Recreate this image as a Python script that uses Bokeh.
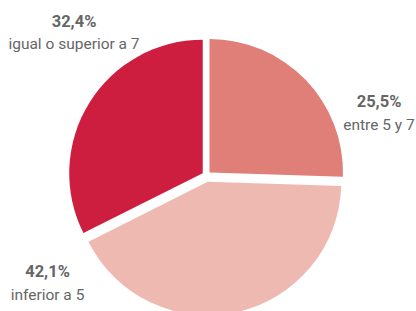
import math
from bokeh.plotting import figure
from bokeh.models import Range1d, ColumnDataSource
from bokeh.core.properties import value
from bokeh.embed import file_html
from bokeh.resources import INLINE

# data
categories = ["entre 5 y 7", "inferior a 5", "igual o superior a 7"]
shares = [25.5, 42.1, 32.4]
pct_labels = ["25,5%", "42,1%", "32,4%"]

# styles
colors = ["#E07E78", "#EDB9B0", "#CE1E40"]
explode = [4.3, 6.5, 4.3]
label_xy = [(378.5, 198.3), (47, 28.3), (73.5, 278.5)]  # centre of the two-line label block

W, H = 416, 311
cx, cy, R = 205.9, 136.0, 133.5

p = figure(width=W, height=H, output_backend="svg", toolbar_location=None,
           x_range=Range1d(0, W), y_range=Range1d(0, H), min_border=0)
p.axis.visible = False
p.grid.visible = False
p.outline_line_color = None

total = sum(shares)
start = 0.0
xs, ys, sa, ea = [], [], [], []
for s, d in zip(shares, explode):
    end = start + s / total * 2 * math.pi
    mid = (start + end) / 2
    # angle measured clockwise from 12 o'clock
    xs.append(cx + d * math.sin(mid))
    ys.append(cy + d * math.cos(mid))
    sa.append(math.pi / 2 - start)
    ea.append(math.pi / 2 - end)
    start = end

src = ColumnDataSource(dict(x=xs, y=ys, sa=sa, ea=ea, color=colors))
p.wedge(x="x", y="y", radius=R, start_angle="sa", end_angle="ea",
        direction="clock", fill_color="color", line_color=None, source=src)

font = value("Roboto")
lx = [xy[0] for xy in label_xy]
ly = [xy[1] for xy in label_xy]
p.text(x=lx, y=[v + 11.3 for v in ly], text=pct_labels, text_font=font,
       text_font_style="bold", text_font_size="16.5px", text_color="#666666",
       text_align="center", text_baseline="middle")
p.text(x=lx, y=[v - 11.3 for v in ly], text=categories, text_font=font,
       text_font_size="15.5px", text_color="#666666",
       text_align="center", text_baseline="middle")

open("out.html", "w").write(file_html(p, INLINE))
